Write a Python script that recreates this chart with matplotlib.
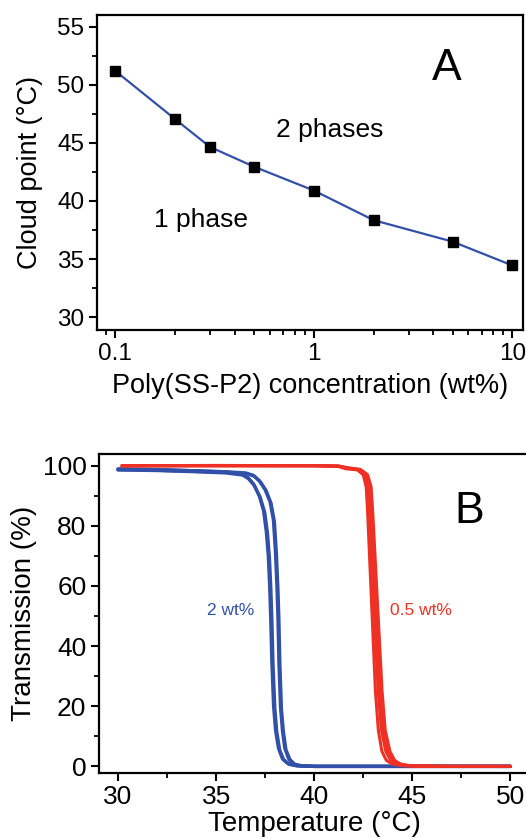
import matplotlib
matplotlib.use("Agg")
import matplotlib.pyplot as plt
from matplotlib.ticker import MultipleLocator, FixedLocator, FixedFormatter, LogLocator, NullFormatter

plt.rcParams['font.family'] = ['Liberation Sans', 'DejaVu Sans']

# ---- Panel A data ----
conc_wt = [0.1, 0.2, 0.3, 0.5, 1, 2, 5, 10]
cloud_point = [51.2, 47.05, 44.65, 42.95, 40.9, 38.35, 36.5, 34.45]

# ---- Panel B data (transmission traces) ----
blue_T1 = [30.0, 32, 34, 35.5, 36.3, 36.6, 36.9, 37.2, 37.42, 37.56, 37.66, 37.73, 37.78, 37.84, 37.93, 38.03, 38.18, 38.38, 38.68, 39.1, 40, 45, 50]
blue_Y1 = [98.9, 98.7, 98.3, 97.9, 97.3, 96.2, 94, 90, 85, 78, 70, 60, 50, 35, 20, 12, 6, 2.5, 0.8, 0.2, 0, 0, 0]
blue_T2 = [30.0, 32, 34, 35.5, 36.35, 36.65, 36.95, 37.25, 37.48, 37.62, 37.72, 37.79, 37.84, 37.9, 37.99, 38.09, 38.24, 38.44, 38.74, 39.15, 40, 45, 50]
blue_Y2 = [98.6, 98.4, 98.0, 97.6, 96.9, 95.7, 93.4, 89.4, 84.4, 77.4, 69, 59, 49, 34, 19.5, 11.5, 5.5, 2.2, 0.7, 0.2, 0, 0, 0]
blue_T3 = [30.0, 32, 34, 35.5, 36.5, 36.9, 37.2, 37.5, 37.75, 37.92, 38.02, 38.1, 38.15, 38.2, 38.28, 38.38, 38.5, 38.7, 38.95, 39.3, 40, 45, 50]
blue_Y3 = [98.9, 98.7, 98.3, 98.0, 97.6, 96.8, 95, 92, 88, 82, 72, 60, 50, 35, 20, 12, 6, 2.5, 0.8, 0.2, 0, 0, 0]
blue_T4 = [30.0, 32, 34, 35.5, 36.55, 36.95, 37.25, 37.55, 37.8, 37.97, 38.07, 38.15, 38.2, 38.25, 38.33, 38.43, 38.56, 38.76, 39.0, 39.35, 40, 45, 50]
blue_Y4 = [98.7, 98.5, 98.1, 97.8, 97.4, 96.5, 94.7, 91.7, 87.5, 81.4, 71, 59, 49, 34, 19, 11.5, 5.5, 2.3, 0.7, 0.2, 0, 0, 0]

red_T1 = [30.2, 35, 40, 41.2, 41.6, 42.2, 42.5, 42.65, 42.72, 42.82, 42.92, 43.02, 43.12, 43.27, 43.45, 43.68, 43.98, 44.4, 45, 47, 50]
red_Y1 = [100, 100.1, 100, 99.8, 99, 98.6, 97, 93, 85, 70, 55, 40, 25, 12, 5, 2, 0.8, 0.3, 0.1, 0, 0]
red_T2 = [30.2, 35, 40, 41.2, 41.7, 42.3, 42.6, 42.75, 42.83, 42.93, 43.04, 43.15, 43.26, 43.43, 43.65, 43.9, 44.2, 44.62, 45.2, 47, 50]
red_Y2 = [100, 100, 100, 99.9, 99.2, 98.7, 97, 93, 85, 70, 55, 40, 25, 12, 5, 2, 0.8, 0.3, 0.1, 0, 0]
red_T3 = [30.2, 35, 40, 41.3, 41.8, 42.4, 42.72, 42.9, 42.98, 43.1, 43.22, 43.34, 43.46, 43.62, 43.86, 44.1, 44.38, 44.8, 45.3, 47, 50]
red_Y3 = [100, 100, 100, 99.8, 99.1, 98.5, 97, 93, 85, 70, 55, 40, 25, 12, 5, 2, 0.8, 0.3, 0.1, 0, 0]
red_T4 = [30.2, 35, 40, 41.25, 41.75, 42.35, 42.66, 42.82, 42.9, 43.01, 43.12, 43.24, 43.36, 43.52, 43.75, 44.0, 44.3, 44.72, 45.25, 47, 50]
red_Y4 = [100, 100, 100, 99.9, 99.3, 98.8, 97.2, 93.5, 86, 71, 56, 41, 26, 13, 5.5, 2.2, 0.9, 0.3, 0.1, 0, 0]

blue_traces = [(blue_T1, blue_Y1), (blue_T2, blue_Y2), (blue_T3, blue_Y3), (blue_T4, blue_Y4)]
red_traces = [(red_T1, red_Y1), (red_T2, red_Y2), (red_T3, red_Y3), (red_T4, red_Y4)]

BLUE = '#3350A8'
RED = '#EE3124'

W, H = 526, 839
fig = plt.figure(figsize=(W / 100, H / 100), dpi=100)

def px_axes(l, r, t, b):
    return fig.add_axes([l / W, (H - b) / H, (r - l) / W, (b - t) / H])

def style(ax, labelsize):
    for s in ax.spines.values():
        s.set_linewidth(1.6)
    ax.tick_params(which='major', direction='out', length=6, width=1.5, labelsize=labelsize, pad=3)
    ax.tick_params(which='minor', direction='out', length=3.5, width=1.3)
    ax.tick_params(top=False, right=False, which='both')

# ---- Panel A ----
axA = px_axes(97, 523, 15, 330)
style(axA, 17.5)
axA.set_xscale('log')
axA.plot(conc_wt, cloud_point, color=BLUE, lw=1.6, marker='s', ms=7,
         mfc='black', mec='black', zorder=3)
axA.set_xlim(0.081, 11.3)
axA.set_ylim(28.9, 56.0)
axA.xaxis.set_major_locator(FixedLocator([0.1, 1, 10]))
axA.xaxis.set_major_formatter(FixedFormatter(['0.1', '1', '10']))
axA.xaxis.set_minor_locator(LogLocator(base=10, subs=range(2, 10)))
axA.xaxis.set_minor_formatter(NullFormatter())
axA.yaxis.set_major_locator(MultipleLocator(5))
axA.yaxis.set_minor_locator(MultipleLocator(2.5))
axA.set_xlabel('Poly(SS-P2) concentration (wt%)', fontsize=19.5, labelpad=6)
axA.set_ylabel('Cloud point (°C)', fontsize=19.5, labelpad=10)
axA.text(0.645, 46.1, '2 phases', fontsize=19, ha='left', va='center')
axA.text(0.157, 38.4, '1 phase', fontsize=19, ha='left', va='center')
axA.text(0.82, 0.83, 'A', fontsize=32, ha='center', va='center', transform=axA.transAxes)

# ---- Panel B ----
axB = px_axes(99, 530, 454, 773)
style(axB, 19)
for T, Y in blue_traces:
    axB.plot(T, Y, color=BLUE, lw=2.4, solid_capstyle='round')
for T, Y in red_traces:
    axB.plot(T, Y, color=RED, lw=2.2, solid_capstyle='round')
axB.set_xlim(29.03, 51.0)
axB.set_ylim(-2.2, 103.9)
axB.xaxis.set_major_locator(MultipleLocator(5))
axB.xaxis.set_minor_locator(MultipleLocator(2.5))
axB.yaxis.set_major_locator(MultipleLocator(20))
axB.yaxis.set_minor_locator(MultipleLocator(10))
axB.set_xlabel('Temperature (°C)', fontsize=20, labelpad=1)
axB.set_ylabel('Transmission (%)', fontsize=20, labelpad=4)
axB.text(34.54, 52, '2 wt%', fontsize=12.5, color=BLUE, ha='left', va='center')
axB.text(43.88, 52, '0.5 wt%', fontsize=12.5, color=RED, ha='left', va='center')
axB.text(0.86, 0.82, 'B', fontsize=32, ha='center', va='center', transform=axB.transAxes)

fig.savefig('out.png', dpi=100)
